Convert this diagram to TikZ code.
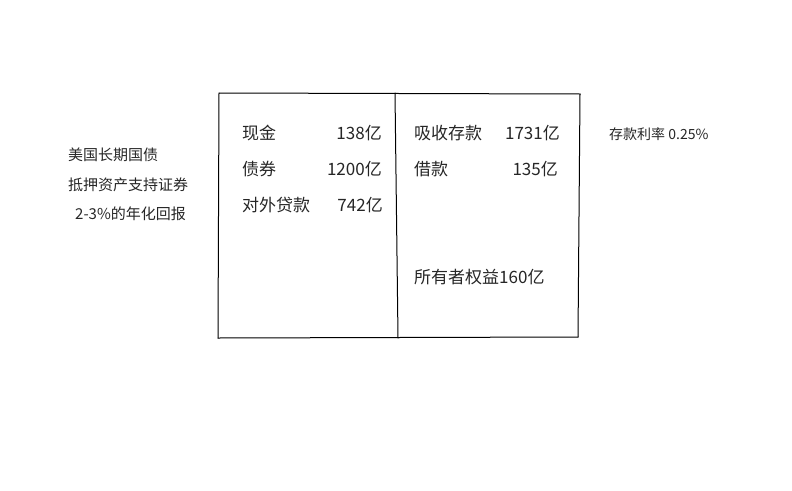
\documentclass[tikz,border=0pt]{standalone}
\usepackage{fontspec}
\setmainfont{Noto Sans CJK SC}
\begin{document}
\begin{tikzpicture}[x=1pt,y=-1pt,
  t/.style={inner sep=0pt,font=\fontsize{17}{20}\selectfont,text=black!85},
  s/.style={inner sep=0pt,font=\fontsize{15}{18}\selectfont,text=black!85},
  ln/.style={draw=black,line width=1pt,line cap=round}]
\useasboundingbox (0,0) rectangle (792,490);
\draw[ln] (219,93) -- (580,94);
\draw[ln] (219,93) -- (218,338);
\draw[ln] (218,338) -- (578,337);
\draw[ln] (580,94) -- (578,337);
\draw[ln] (395,93) -- (398,338);
\node[t,anchor=west] (a1) at (242,133) {现金};
\node[t,anchor=east] (b1) at (382,133) {138亿};
\node[t,anchor=west] (a2) at (242,169) {债券};
\node[t,anchor=east] (b2) at (382,169) {1200亿};
\node[t,anchor=west] (a3) at (242,205) {对外贷款};
\node[t,anchor=east] (b3) at (383,205) {742亿};
\node[t,anchor=west] (c1) at (414,133) {吸收存款};
\node[t,anchor=east] (d1) at (560,133) {1731亿};
\node[t,anchor=west] (c2) at (414,169) {借款};
\node[t,anchor=east] (d2) at (558,169) {135亿};
\node[t,anchor=west] (c3) at (414,277) {所有者权益160亿};
\node[s,anchor=west] (l1) at (68,155) {美国长期国债};
\node[s,anchor=west] (l2) at (68,185) {抵押资产支持证券};
\node[s,anchor=west] (l3) at (75,214) {2-3\%的年化回报};
\node[s,anchor=west,font=\fontsize{14}{16}\selectfont] (r1) at (609,134) {存款利率 0.25\%};
\end{tikzpicture}
\end{document}
